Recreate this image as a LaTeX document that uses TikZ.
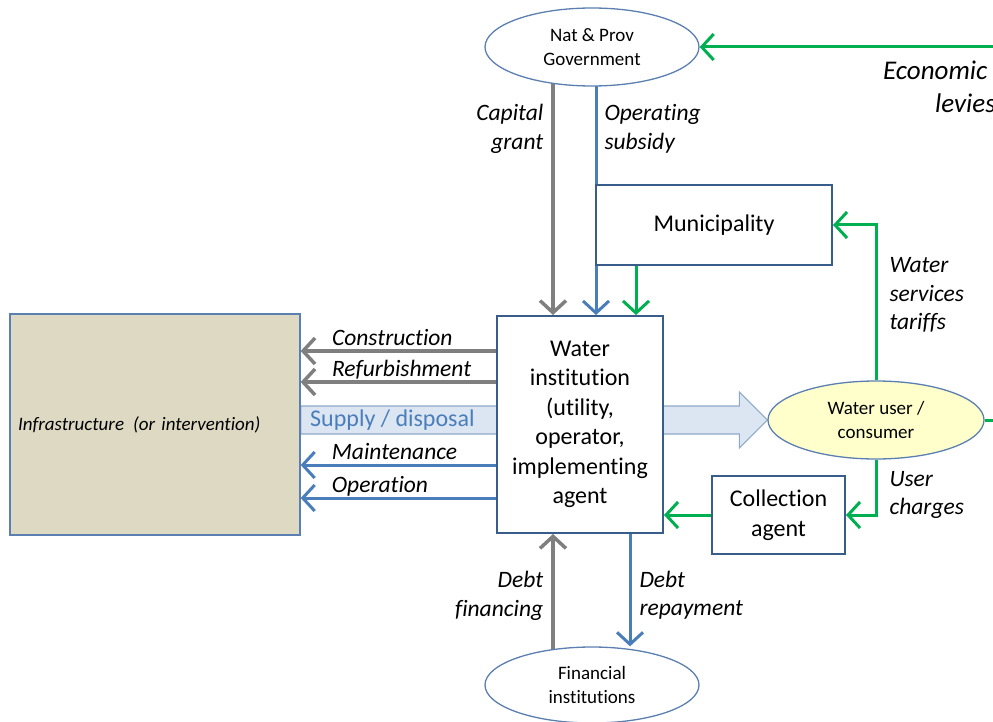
\documentclass[tikz,border=0pt]{standalone}
\usepackage{fontspec}
\setmainfont{Carlito}[Ligatures=NoCommon]
\usepackage{tikz}
\usetikzlibrary{arrows.meta, positioning, calc, shapes.geometric, backgrounds}
\definecolor{flowGray}{HTML}{7F7F7F}
\definecolor{flowBlue}{HTML}{4A7EBB}
\definecolor{flowGreen}{HTML}{00B050}
\definecolor{boxBlue}{HTML}{385D8A}
\definecolor{partyEdge}{HTML}{5B7FB0}
\definecolor{infraTan}{HTML}{DDD9C3}
\definecolor{supplyFill}{HTML}{DCE6F2}
\definecolor{supplyEdge}{HTML}{8EA9C8}
\definecolor{userYellow}{HTML}{FFFFCC}

\begin{document}
\begin{tikzpicture}[x=1pt, y=-1pt, >={Straight Barb[length=12pt,width=26pt]},
    box/.style={draw=boxBlue, line width=2pt, fill=white, align=center, inner sep=2pt, font=\fontsize{24}{29.5}\selectfont},
    party/.style={ellipse, draw=partyEdge, line width=1.3pt, fill=white, inner sep=0pt, align=center, font=\fontsize{19}{24.5}\selectfont},
    flow/.style={->, line width=3pt},
    grayflow/.style={flow, draw=flowGray, line width=3.5pt},
    blueflow/.style={flow, draw=flowBlue},
    greenflow/.style={flow, draw=flowGreen},
    lbl/.style={font=\itshape\fontsize{23.5}{28.5}\selectfont, inner sep=0pt}]
  \useasboundingbox (0,0) rectangle (993,722);
  \clip (0,0) rectangle (993,722);

  % parties and boxes
  \node[party, minimum width=214pt, minimum height=78pt] (gov) at (592,47) {Nat \& Prov\\Government};
  \node[box, minimum width=236pt, minimum height=80pt] (muni) at (714,225) {Municipality};
  \node[box, minimum width=166pt, minimum height=217pt] (inst) at (580,424.5) {Water\\institution\\(utility,\\operator,\\implementing\\agent};
  \node[draw=partyEdge, line width=1.3pt, fill=infraTan, minimum width=290pt, minimum height=221pt,
        text width=274pt, align=left, font=\itshape\fontsize{19}{23}\selectfont] (infra) at (155,424.5) {Infrastructure\hspace{9pt}(or intervention)};
  \node[party, fill=userYellow, minimum width=216pt, minimum height=78pt] (user) at (876,420) {Water user /\\consumer};
  \node[box, minimum width=133pt, minimum height=78pt] (coll) at (778.5,515) {Collection\\agent};
  \node[party, minimum width=214pt, minimum height=76pt] (fin) at (592,685) {Financial\\institutions};

  \coordinate (capx) at (553,0);
  \coordinate (opx) at (596,0);
  \coordinate (mgx) at (636,0);
  \coordinate (repx) at (630,0);
  \coordinate (econ) at (1000,47);
  \coordinate (edge) at (1000,420);

  \begin{scope}[on background layer]
    % Supply / disposal band
    \draw[fill=supplyFill, draw=supplyEdge, line width=1.2pt]
      ($(infra.east |- user.west)+(0,-14)$) -- ($(user.west)+(-28,-14)$) -- ($(user.west)+(-28,-28)$)
      -- (user.west) -- ($(user.west)+(-28,28)$) -- ($(user.west)+(-28,14)$)
      -- ($(infra.east |- user.west)+(0,14)$) -- cycle;
    \node[text=flowBlue, font=\fontsize{24}{29}\selectfont] (supply) at ($(infra.east |- user.west)!0.47!(inst.west |- user.west)$) {Supply / disposal};

    % funding flows
    \draw[grayflow] (gov.center -| capx) -- (inst.north -| capx)
      node[lbl, pos=0.305, anchor=east, xshift=-8pt, align=right] {Capital\\grant};
    \draw[blueflow] (gov.center -| opx) -- (inst.north -| opx)
      node[lbl, pos=0.305, anchor=west, xshift=7pt, align=left] {Operating\\subsidy};
    \draw[greenflow] (muni.south -| mgx) -- (inst.north -| mgx);
    \draw[greenflow] (user.north) |- (muni.east)
      node[lbl, pos=0.274, anchor=west, xshift=12pt, align=left] {Water\\services\\tariffs};
    \draw[greenflow] (user.south) |- (coll.east)
      node[lbl, pos=0.32, anchor=west, xshift=12pt, align=left] {User\\charges};
    \draw[greenflow] (coll.west) -- (coll.west -| inst.east);
    \draw[grayflow] (fin.center -| capx) -- (inst.south -| capx)
      node[lbl, pos=0.59, anchor=east, xshift=-8pt, align=right] {Debt\\financing};
    \draw[blueflow] (inst.south -| repx) -- (fin.north -| repx)
      node[lbl, pos=0.544, anchor=west, xshift=8pt, align=left] {Debt\\repayment};

    % works on the infrastructure
    \foreach \dy/\sty/\txt in {36/grayflow/Construction, 67/grayflow/Refurbishment,
                               150/blueflow/Maintenance, 183/blueflow/Operation}
      \draw[\sty] ($(inst.north west)+(0,\dy)$) -- ($(inst.north west -| infra.east)+(0,\dy)$)
        node[lbl, pos=0.848, anchor=base west, yshift=5.5pt] {\txt};
  \end{scope}

  \draw[greenflow] (econ) -- (gov.east);
  \draw[flowGreen, line width=3pt] (user.east) -- (edge);
  \node[lbl, font=\itshape\fontsize{27}{33}\selectfont, anchor=west, align=left] (levies) at (883,86.5) {Economic\\\hspace*{52pt}levies};
\end{tikzpicture}
\end{document}
